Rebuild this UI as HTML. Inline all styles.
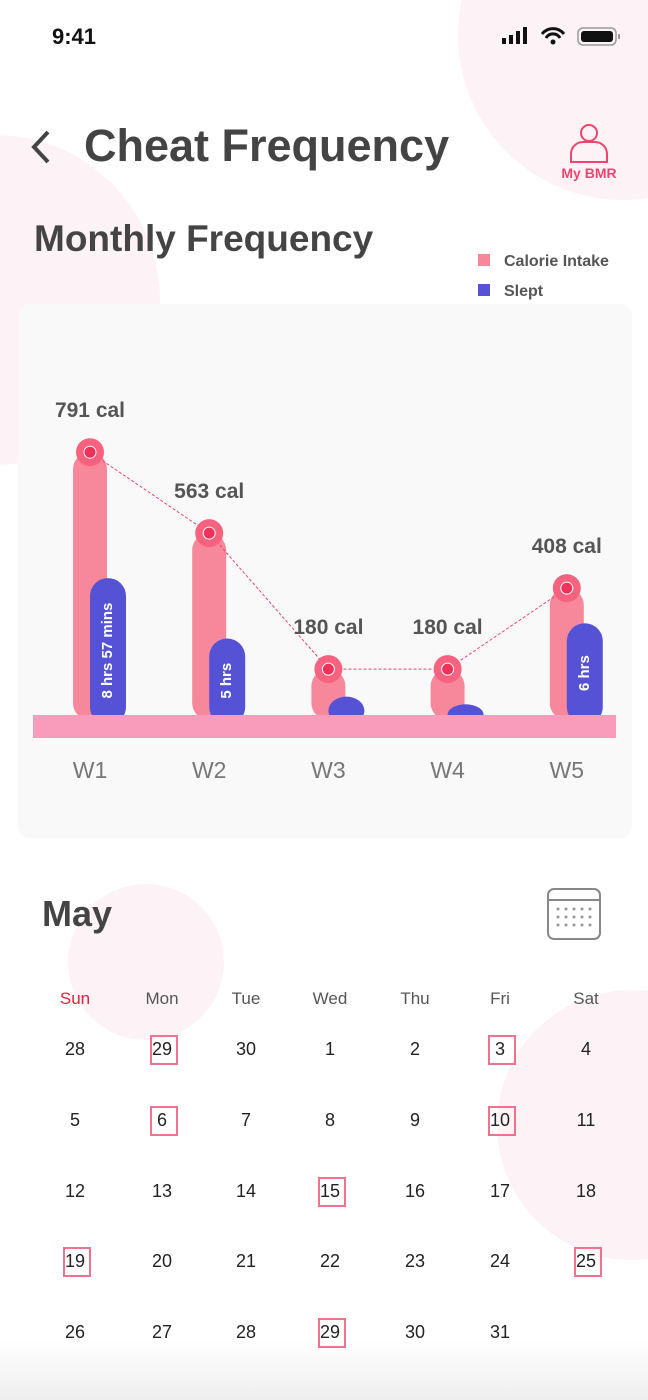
<!DOCTYPE html>
<html><head><meta charset="utf-8"><style>
html,body{margin:0;width:648px;height:1400px;overflow:hidden}
body{background:#fff;font-family:"Liberation Sans",sans-serif;position:relative}
#wrap{position:absolute;left:0;top:0;width:648px;height:1400px;overflow:hidden}
.abs{position:absolute}
.blob{position:absolute;border-radius:50%;background:#fdf3f6}
.day{position:absolute;width:40px;text-align:center;font-size:18px;color:#222;transform:translateX(-20px)}
.hd{position:absolute;width:50px;text-align:center;font-size:17px;color:#555;transform:translateX(-25px)}
.box{position:absolute;width:24px;height:26px;border:2px solid #f0728f;transform:translate(-14px,-15px)}
</style></head><body><div id="wrap">
<div class="blob" style="left:458px;top:-130px;width:330px;height:330px"></div>
<div class="blob" style="left:-170px;top:135px;width:330px;height:330px"></div>
<div class="blob" style="left:68px;top:884px;width:156px;height:156px"></div>
<div class="blob" style="left:497px;top:990px;width:270px;height:270px"></div>
<div class="abs" style="left:0;top:1340px;width:648px;height:60px;background:linear-gradient(#fff,#eee)"></div>

<div class="abs" style="left:52px;top:24px;font-size:22px;font-weight:bold;color:#111">9:41</div>
<svg class="abs" style="left:502px;top:26px" width="120" height="22">
<rect x="0" y="12" width="4" height="6" fill="#111"/><rect x="7" y="9" width="4" height="9" fill="#111"/><rect x="14" y="5" width="4" height="13" fill="#111"/><rect x="21" y="1" width="4" height="17" fill="#111"/>
<path d="M40 8 a14 14 0 0 1 22 0 M44 12 a8 8 0 0 1 14 0" stroke="#111" stroke-width="3" fill="none"/><circle cx="51" cy="16" r="2.5" fill="#111"/>
<rect x="76" y="2" width="38" height="17" rx="5" fill="none" stroke="#999" stroke-width="1.5"/><rect x="79" y="5" width="32" height="11" rx="3" fill="#111"/><rect x="116" y="8" width="2" height="5" fill="#999"/>
</svg>

<svg class="abs" style="left:26px;top:128px" width="28" height="38"><path d="M22 4 L8 19 L22 34" stroke="#444" stroke-width="4" fill="none"/></svg>
<div class="abs" style="left:84px;top:120px;font-size:45px;font-weight:bold;color:#444">Cheat Frequency</div>
<div class="abs" style="left:552px;top:120px;width:74px;text-align:center;color:#f0456e;font-size:14px;font-weight:bold">
<svg width="44" height="44"><circle cx="22" cy="13" r="8" fill="none" stroke="#f0456e" stroke-width="2"/><path d="M4 42 V34 a12 12 0 0 1 12-12 h12 a12 12 0 0 1 12 12 V42 Z" fill="none" stroke="#f0456e" stroke-width="2"/></svg><div style="margin-top:-2px">My BMR</div></div>

<div class="abs" style="left:34px;top:218px;font-size:37px;font-weight:bold;color:#444">Monthly Frequency</div>
<div class="abs" style="left:478px;top:253px;font-size:16px;font-weight:bold;color:#555"><span style="display:inline-block;width:12px;height:12px;background:#f7879a;margin-right:14px"></span>Calorie Intake</div>
<div class="abs" style="left:478px;top:283px;font-size:16px;font-weight:bold;color:#555"><span style="display:inline-block;width:12px;height:12px;background:#5552d6;margin-right:14px"></span>Slept</div>

<div class="abs" style="left:18px;top:304px;width:614px;height:534px;background:#f9f9f9;border-radius:12px"></div>
<svg class="abs" id="chart" style="left:0;top:0" width="648" height="850"></svg>

<div class="abs" style="left:42px;top:893px;font-size:36px;font-weight:bold;color:#444">May</div>
<svg class="abs" style="left:546px;top:887px" width="56" height="54"><rect x="2" y="2" width="52" height="50" rx="6" fill="none" stroke="#888" stroke-width="2"/><line x1="2" y1="13" x2="54" y2="13" stroke="#888" stroke-width="2"/>
<g fill="#999"><circle cx="12" cy="22" r="1.5"/><circle cx="20" cy="22" r="1.5"/><circle cx="28" cy="22" r="1.5"/><circle cx="36" cy="22" r="1.5"/><circle cx="44" cy="22" r="1.5"/><circle cx="12" cy="30" r="1.5"/><circle cx="20" cy="30" r="1.5"/><circle cx="28" cy="30" r="1.5"/><circle cx="36" cy="30" r="1.5"/><circle cx="44" cy="30" r="1.5"/><circle cx="12" cy="38" r="1.5"/><circle cx="20" cy="38" r="1.5"/><circle cx="28" cy="38" r="1.5"/><circle cx="36" cy="38" r="1.5"/><circle cx="44" cy="38" r="1.5"/></g></svg>
<div id="cal"></div>
</div>
<script>
const weeks=["W1","W2","W3","W4","W5"];
const calories=[791,563,180,180,408];
const sleptHours=[8.95,5,1.2,0.7,6];
const sleptLabels=["8 hrs 57 mins","5 hrs","","","6 hrs"];
const NS="http://www.w3.org/2000/svg";
const svg=document.getElementById('chart');
const base=715, x0=90, step=119.2;
const xS=i=>x0+i*step;
const yCal=v=>base-(-18+0.355*v);
const ySl=h=>base-15.3*h;
function mk(t,a,p){const e=document.createElementNS(NS,t);for(const k in a)e.setAttribute(k,a[k]);(p||svg).appendChild(e);return e;}
weeks.forEach((w,i)=>{
 const cx=xS(i), ct=yCal(calories[i]);
 const b=mk('rect',{x:cx-17,y:ct,width:34,height:base-ct+5,rx:17,fill:'#f7879a'});
 
 
 const st=ySl(sleptHours[i]);
 const s=mk('rect',{x:cx,y:st,width:36,height:base-st+10,rx:18,fill:'#5552d6'});
 
 
 if(sleptLabels[i]){const tx=cx+18, ty=(st+base)/2+4;
  const t=mk('text',{x:tx,y:ty,transform:`rotate(-90 ${tx} ${ty})`,'text-anchor':'middle','dominant-baseline':'middle','font-size':15,'font-weight':'bold',fill:'#fff','font-family':'Liberation Sans'});t.textContent=sleptLabels[i];
  
  }
});
const pts=weeks.map((w,i)=>xS(i)+','+yCal(calories[i])).join(' ');
mk('polyline',{points:pts,fill:'none',stroke:'#f0456e','stroke-width':1,'stroke-dasharray':'3 2'});
mk('rect',{x:33,y:base,width:583,height:23,fill:'#f99bbb'});
weeks.forEach((w,i)=>{
 const cx=xS(i), ct=yCal(calories[i]);
 const c=mk('circle',{cx:cx,cy:ct,r:14,fill:'#f7637f'});
 
 
 mk('circle',{cx:cx,cy:ct,r:6,fill:'#f0315a',stroke:'#fff','stroke-width':1});
 const l=mk('text',{x:cx,y:ct-35,'text-anchor':'middle','font-size':21,'font-weight':'bold',fill:'#555','font-family':'Liberation Sans'});l.textContent=calories[i]+' cal';
 
 
 const x=mk('text',{x:cx,y:778,'text-anchor':'middle','font-size':23,fill:'#777','font-family':'Liberation Sans'});x.textContent=w;
 
 
});
const days=["Sun","Mon","Tue","Wed","Thu","Fri","Sat"];
const cols=[75,162,246,330,415,500,586];
const rows=[1050,1121,1192,1262,1333];
const dates=[[28,29,30,1,2,3,4],[5,6,7,8,9,10,11],[12,13,14,15,16,17,18],[19,20,21,22,23,24,25],[26,27,28,29,30,31,""]];
const marked=[[0,1],[0,5],[1,1],[1,5],[2,3],[3,0],[3,6],[4,3]];
const cal=document.getElementById('cal');
days.forEach((d,i)=>{const e=document.createElement('div');e.className='hd';e.style.left=cols[i]+'px';e.style.top='989px';e.textContent=d;if(i==0)e.style.color='#e0203c';
 
 cal.appendChild(e);});
dates.forEach((r,ri)=>r.forEach((d,ci)=>{if(d==="")return;const e=document.createElement('div');e.className='day';e.style.left=cols[ci]+'px';e.style.top=(rows[ri]-11)+'px';e.textContent=d;
 
 cal.appendChild(e);}));
marked.forEach(([r,c])=>{const b=document.createElement('div');b.className='box';b.style.left=(cols[c]+2)+'px';b.style.top=rows[r]+'px';
 
 cal.appendChild(b);});
</script>
</body></html>
